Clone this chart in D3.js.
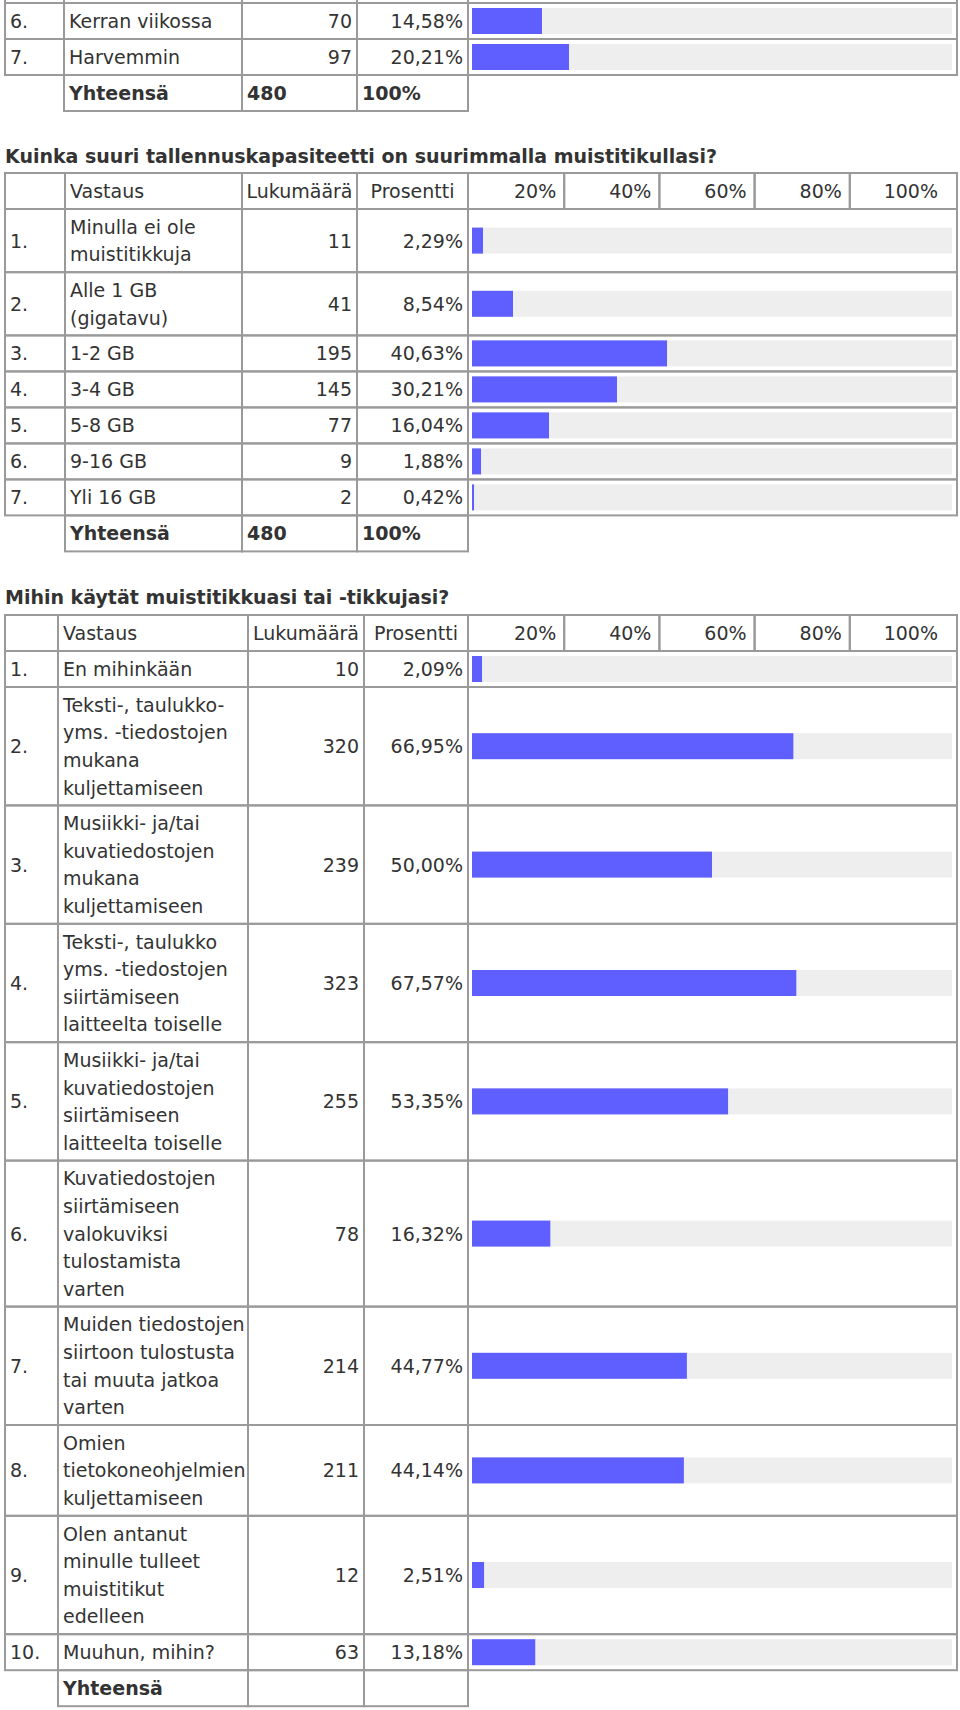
<!DOCTYPE html>
<html>
<head>
<meta charset="utf-8">
<script src="https://cdn.jsdelivr.net/npm/d3@7"></script>
<style>
  body { margin: 0; background: #fff; }
  svg text { font-family: "DejaVu Sans", Verdana, sans-serif; font-size: 19px; fill: #333; }
  .title { font-weight: bold; }
  .bold { font-weight: bold; }
</style>
</head>
<body>
<div id="chart"></div>
<script>
// --- data ---
// question 1 (only its last rows are visible)
const q1Index = [6, 7];
const q1Labels = [["Kerran viikossa"], ["Harvemmin"]];
const q1Counts = [70, 97];
const q1Pct = [14.58, 20.21];
const q1Total = 480;

// question 2
const q2Title = "Kuinka suuri tallennuskapasiteetti on suurimmalla muistitikullasi?";
const q2Labels = [
    ["Minulla ei ole", "muistitikkuja"],
    ["Alle 1 GB", "(gigatavu)"],
    ["1-2 GB"], ["3-4 GB"], ["5-8 GB"], ["9-16 GB"], ["Yli 16 GB"]
];
const q2Counts = [11, 41, 195, 145, 77, 9, 2];
const q2Pct = [2.29, 8.54, 40.63, 30.21, 16.04, 1.88, 0.42];
const q2Total = 480;

// question 3
const q3Title = "Mihin käytät muistitikkuasi tai -tikkujasi?";
const q3Labels = [
    ["En mihinkään"],
    ["Teksti-, taulukko-", "yms. -tiedostojen", "mukana", "kuljettamiseen"],
    ["Musiikki- ja/tai", "kuvatiedostojen", "mukana", "kuljettamiseen"],
    ["Teksti-, taulukko", "yms. -tiedostojen", "siirtämiseen", "laitteelta toiselle"],
    ["Musiikki- ja/tai", "kuvatiedostojen", "siirtämiseen", "laitteelta toiselle"],
    ["Kuvatiedostojen", "siirtämiseen", "valokuviksi", "tulostamista", "varten"],
    ["Muiden tiedostojen", "siirtoon tulostusta", "tai muuta jatkoa", "varten"],
    ["Omien", "tietokoneohjelmien", "kuljettamiseen"],
    ["Olen antanut", "minulle tulleet", "muistitikut", "edelleen"],
    ["Muuhun, mihin?"]
];
const q3Counts = [10, 320, 239, 323, 255, 78, 214, 211, 12, 63];
const q3Pct = [2.09, 66.95, 50.00, 67.57, 53.35, 16.32, 44.77, 44.14, 2.51, 13.18];

// header texts and ticks
const headerTexts = ["Vastaus", "Lukumäärä", "Prosentti"];
const tickValues = [20, 40, 60, 80, 100];
const totalLabel = "Yhteensä";

// --- layout ---
const width = 960, height = 1710;
const lineH = 27.6;
const border = "#9a9a9a";

const svg = d3.select("#chart").append("svg")
    .attr("width", width)
    .attr("height", height);

// bar scale (0-100 %) and header tick scale
const x = d3.scaleLinear().domain([0, 100]).range([472, 952]);
const tickX = d3.scaleLinear().domain([0, 100]).range([469, 945]);

const fmtPct = v => v.toFixed(2).replace(".", ",") + "%";
const rowHeight = n => n === 1 ? 36 : 8 + lineH * n;

function cell(g, x0, x1, y0, y1) {
    g.append("rect")
        .attr("x", x0).attr("y", y0)
        .attr("width", x1 - x0).attr("height", y1 - y0)
        .attr("fill", "none")
        .attr("stroke", border)
        .attr("stroke-width", 2);
}

function drawTable(opt) {
    const g = svg.append("g");
    const c = opt.cols;
    let y = opt.top;

    if (opt.header) {
        const h = 36, cy = y + h / 2;
        cell(g, c[0], c[1], y, y + h);
        cell(g, c[1], c[2], y, y + h);
        cell(g, c[2], c[3], y, y + h);
        cell(g, c[3], c[4], y, y + h);
        const edges = [c[4]].concat(tickValues.slice(0, -1).map(tickX), [c[5]]);
        for (let i = 0; i < edges.length - 1; i++) cell(g, edges[i], edges[i + 1], y, y + h);

        g.append("text").attr("x", c[1] + 5).attr("y", cy).attr("dy", "0.37em").text(headerTexts[0]);
        g.append("text").attr("x", (c[2] + c[3]) / 2).attr("y", cy).attr("dy", "0.37em")
            .attr("text-anchor", "middle").text(headerTexts[1]);
        g.append("text").attr("x", (c[3] + c[4]) / 2).attr("y", cy).attr("dy", "0.37em")
            .attr("text-anchor", "middle").text(headerTexts[2]);
        g.selectAll(".tick").data(tickValues).enter().append("text")
            .attr("x", d => tickX(d) - (d === 100 ? 7 : 8))
            .attr("y", cy).attr("dy", "0.37em")
            .attr("text-anchor", "end")
            .text(d => d + "%");
        y += h;
    }

    opt.labels.forEach((lines, i) => {
        const h = rowHeight(lines.length), cy = y + h / 2;
        cell(g, c[0], c[1], y, y + h);
        cell(g, c[1], c[2], y, y + h);
        cell(g, c[2], c[3], y, y + h);
        cell(g, c[3], c[4], y, y + h);
        cell(g, c[4], c[5], y, y + h);

        g.append("text").attr("x", c[0] + 5).attr("y", cy).attr("dy", "0.37em")
            .text(opt.index[i] + ".");
        lines.forEach((t, j) => {
            g.append("text").attr("x", c[1] + 5)
                .attr("y", cy + (j - (lines.length - 1) / 2) * lineH)
                .attr("dy", "0.37em").text(t);
        });
        g.append("text").attr("x", c[3] - 5).attr("y", cy).attr("dy", "0.37em")
            .attr("text-anchor", "end").text(opt.counts[i]);
        g.append("text").attr("x", c[4] - 5).attr("y", cy).attr("dy", "0.37em")
            .attr("text-anchor", "end").text(fmtPct(opt.pct[i]));

        // grey track + blue bar
        g.append("rect")
            .attr("x", x(0)).attr("y", cy - 13)
            .attr("width", x(100) - x(0)).attr("height", 26)
            .attr("fill", "#eeeeee");
        g.append("rect")
            .attr("x", x(0)).attr("y", cy - 13)
            .attr("width", x(opt.pct[i]) - x(0)).attr("height", 26)
            .attr("fill", "#5f5fff");
        y += h;
    });

    // totals row
    const h = 36, cy = y + h / 2;
    cell(g, c[1], c[2], y, y + h);
    cell(g, c[2], c[3], y, y + h);
    cell(g, c[3], c[4], y, y + h);
    g.append("text").attr("class", "bold").attr("x", c[1] + 5).attr("y", cy).attr("dy", "0.37em").text(totalLabel);
    if (opt.total != null) {
        g.append("text").attr("class", "bold").attr("x", c[2] + 5).attr("y", cy).attr("dy", "0.37em").text(opt.total);
        g.append("text").attr("class", "bold").attr("x", c[3] + 5).attr("y", cy).attr("dy", "0.37em").text("100%");
    }
    return g;
}

// table 1 continues from above the top edge
const t1Cols = [5, 64, 242, 357, 468, 957];
const t1 = drawTable({
    top: 3, cols: t1Cols, header: false,
    index: q1Index, labels: q1Labels, counts: q1Counts, pct: q1Pct, total: q1Total
});
t1Cols.forEach(cx => {
    t1.append("line").attr("x1", cx).attr("x2", cx).attr("y1", -5).attr("y2", 3)
        .attr("stroke", border).attr("stroke-width", 2);
});

svg.append("text").attr("class", "title").attr("x", 5).attr("y", 163).text(q2Title);
drawTable({
    top: 173, cols: [5, 65, 242, 357, 468, 957], header: true,
    index: d3.range(1, q2Labels.length + 1), labels: q2Labels, counts: q2Counts, pct: q2Pct,
    total: q2Total
});

svg.append("text").attr("class", "title").attr("x", 5).attr("y", 604).text(q3Title);
drawTable({
    top: 615, cols: [5, 58, 248, 364, 468, 957], header: true,
    index: d3.range(1, q3Labels.length + 1), labels: q3Labels, counts: q3Counts, pct: q3Pct,
    total: null
});
</script>
</body>
</html>
